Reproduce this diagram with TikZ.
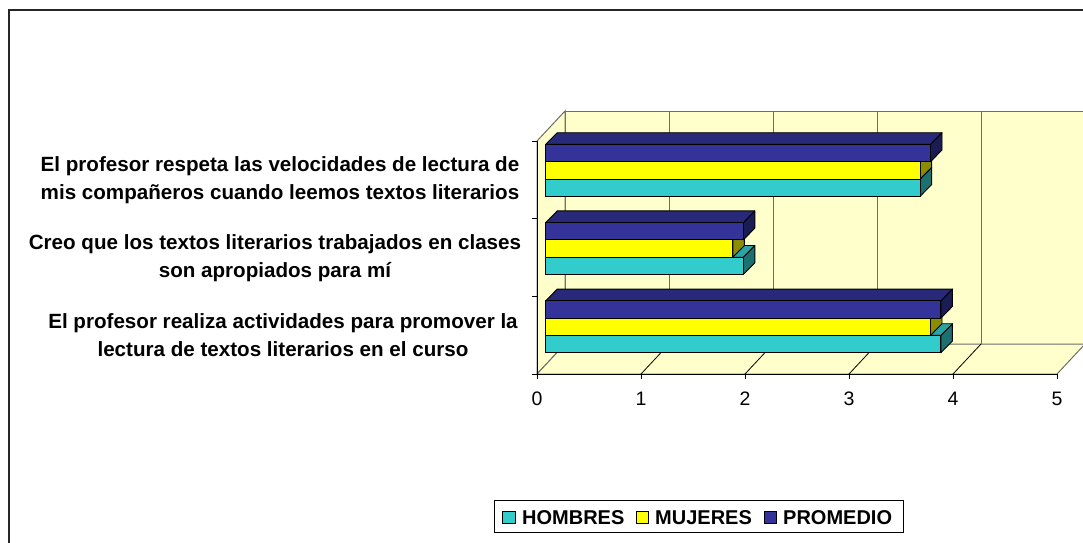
\documentclass[tikz,border=0pt]{standalone}
\usepackage{fontspec}
\setmainfont{Liberation Sans}
\definecolor{wall}{HTML}{FFFFCC}
\definecolor{gridc}{HTML}{808080}
\definecolor{cyF}{HTML}{33CCCC}
\definecolor{cyT}{HTML}{29A3A3}
\definecolor{cyS}{HTML}{1C7070}
\definecolor{yeF}{HTML}{FFFF00}
\definecolor{yeT}{HTML}{CCCC00}
\definecolor{yeS}{HTML}{8C8C00}
\definecolor{nvF}{HTML}{333399}
\definecolor{nvT}{HTML}{29297A}
\definecolor{nvS}{HTML}{1C1C54}
\newcommand{\mybar}[5]{%
  \pgfmathsetmacro\xe{545.7+104*#2}%
  \pgfmathsetmacro\xb{\xe+11.5}%
  \pgfmathsetmacro\yt{#1}%
  \pgfmathsetmacro\yb{#1+17.3}%
  \pgfmathsetmacro\ytb{#1-11.7}%
  \pgfmathsetmacro\ybb{#1+17.3-11.7}%
  \filldraw[#5, draw=black, line width=0.9pt, line join=round] (\xe,\yt) -- (\xb,\ytb) -- (\xb,\ybb) -- (\xe,\yb) -- cycle;
  \filldraw[#4, draw=black, line width=0.9pt, line join=round] (545.7,\yt) -- (557.2,\ytb) -- (\xb,\ytb) -- (\xe,\yt) -- cycle;
  \filldraw[#3, draw=black, line width=0.9pt] (545.7,\yt) rectangle (\xe,\yb);
}
\tikzset{
  catlabel/.style={font=\fontsize{20.6}{28}\selectfont\bfseries, align=center, inner sep=0pt},
  numlabel/.style={font=\fontsize{19.5}{22}\selectfont, inner sep=0pt},
  legtext/.style={font=\fontsize{20}{22}\selectfont\bfseries, inner sep=0pt, anchor=base west},
  legsq/.style={draw=black, line width=0.8pt},
  gridline/.style={draw=gridc!85!black, line width=1pt},
  axisline/.style={draw=black, line width=1pt}
}
\begin{document}
\begin{tikzpicture}[x=1pt,y=-1pt]
\useasboundingbox (0,0) rectangle (1083,542);
\fill[white] (0,0) rectangle (1083,542);
% outer frame
\draw[black!85, line width=1.6pt] (9,545) -- (9,10) -- (1086,10);
% walls
\filldraw[fill=wall, gridline] (565,111) rectangle (1085,344);
\filldraw[fill=wall, gridline] (537,141) -- (565,111) -- (565,344) -- (537,374) -- cycle;
\filldraw[fill=wall, gridline] (537,374) -- (565,344) -- (1085,344) -- (1057,374) -- cycle;
% grid lines
\foreach \k in {1,2,3,4} {
  \draw[gridline] (565+104*\k,111) -- (565+104*\k,344);
  \draw[black, line width=0.8pt] (537+104*\k,374) -- (565+104*\k,344);
}
% axes
\draw[axisline] (537,141) -- (537,374) -- (1057,374);
\foreach \y in {141,218.7,296.3,374} \draw[axisline] (532,\y) -- (537,\y);
\foreach \k in {0,...,5} {
  \draw[axisline] (537+104*\k,374) -- (537+104*\k,379);
  \node[numlabel] (n\k) at (537+104*\k,398.5) {\k};
}
% bars: category 1 (top)
\mybar{179.0}{3.6}{cyF}{cyT}{cyS}
\mybar{161.7}{3.6}{yeF}{yeT}{yeS}
\mybar{144.4}{3.7}{nvF}{nvT}{nvS}
% category 2
\mybar{257.2}{1.9}{cyF}{cyT}{cyS}
\mybar{239.9}{1.8}{yeF}{yeT}{yeS}
\mybar{222.6}{1.9}{nvF}{nvT}{nvS}
% category 3
\mybar{335.4}{3.8}{cyF}{cyT}{cyS}
\mybar{318.1}{3.7}{yeF}{yeT}{yeS}
\mybar{300.8}{3.8}{nvF}{nvT}{nvS}
% category labels
\node[catlabel] (c1) at (280,180) {El profesor respeta las velocidades de lectura de\\mis compañeros cuando leemos textos literarios};
\node[catlabel] (c2) at (275,258) {Creo que los textos literarios trabajados en clases\\son apropiados para mí};
\node[catlabel] (c3) at (283,335) {El profesor realiza actividades para promover la\\lectura de textos literarios en el curso};
% legend
\draw[black, line width=0.9pt, fill=white] (494,500) rectangle (903,532);
\filldraw[legsq, fill=cyF] (502,511) rectangle (515,523);
\node[legtext] (l1) at (522,524) {HOMBRES};
\filldraw[legsq, fill=yeF] (636,511) rectangle (648,523);
\node[legtext] (l2) at (655,524) {MUJERES};
\filldraw[legsq, fill=nvF] (764,511) rectangle (776,523);
\node[legtext] (l3) at (783,524) {PROMEDIO};
\end{tikzpicture}
\end{document}
